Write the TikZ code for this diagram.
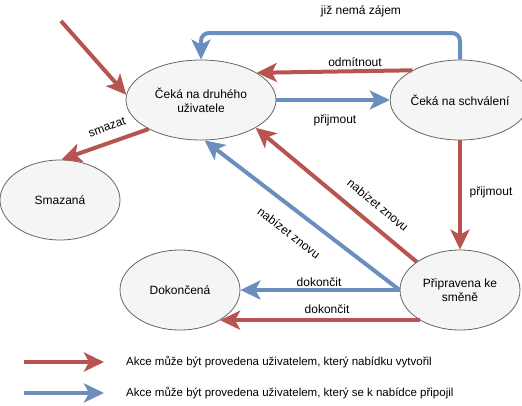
\documentclass[tikz,border=0pt]{standalone}
\usepackage{fontspec}
\setmainfont{Liberation Sans}
\usetikzlibrary{shapes.geometric,arrows.meta}
\definecolor{actred}{HTML}{B85450}
\definecolor{actblue}{HTML}{6C8EBF}
\definecolor{stfill}{HTML}{F5F5F5}
\definecolor{stline}{HTML}{666666}
\begin{document}
\begin{tikzpicture}[x=1pt,y=-1pt,
  state/.style={ellipse, draw=stline, fill=stfill, line width=0.8pt, inner sep=0pt,
    minimum width=120pt, minimum height=80pt, align=center,
    font=\fontsize{12}{14}\selectfont},
  act/.style={line width=4pt, -{Stealth[length=20pt,width=19pt,inset=5pt]}},
  redact/.style={act, draw=actred},
  blueact/.style={act, draw=actblue},
  lbl/.style={font=\fontsize{12}{14}\selectfont, inner sep=1pt},
  legtext/.style={font=\fontsize{11.5}{14}\selectfont, anchor=west, inner sep=0pt}]
\useasboundingbox (0,0) rectangle (522,405);

% states
\node[state, minimum width=150pt] (D) at (201,100) {Čeká na druhého\\uživatele};
\node[state] (S) at (460,100) {Čeká na schválení};
\node[state] (Z) at (60,200) {Smazaná};
\node[state] (K) at (180,290) {Dokončená};
\node[state] (P) at (460,290) {Připravena ke\\směně};

% entry
\coordinate (start) at (61,21);
\draw[redact] (start) -- (D.176);

% transitions
\coordinate (bend) at (330,33);
\draw[blueact, rounded corners=8pt] (S.north) |- (bend) -| (D.north);
\node[lbl] (l1) at (361,11) {již nemá zájem};

\draw[redact] (S.148.6) -- (D.26);
\node[lbl] (l2) at (355,62) {odmítnout};

\draw[blueact] (D.east) -- (S.west);
\node[lbl] (l3) at (335,120) {přijmout};

\draw[redact] (D.209.5) -- (Z.88);
\node[lbl, rotate=20] (l4) at (107,127) {smazat};

\draw[redact] (S.south) -- (P.north);
\node[lbl] (l5) at (491,192) {přijmout};

\draw[redact] (P.147.3) -- (D.-27.5);
\node[lbl, rotate=-39.6] (l6) at (378,205) {nabízet znovu};

\draw[blueact] (P.west) -- (D.-85);
\node[lbl, rotate=-37.3] (l7) at (289,233) {nabízet znovu};

\draw[blueact] (P.west) -- (K.east);
\node[lbl] (l8) at (319,282) {dokončit};

\draw[redact] (P.217.1) -- (K.-37.1);
\node[lbl] (l9) at (327,309) {dokončit};

% legend
\coordinate (r0) at (24,362);
\coordinate (r1) at (104,362);
\coordinate (b0) at (24,393);
\coordinate (b1) at (104,393);
\draw[redact, line width=4.5pt] (r0) -- (r1);
\draw[blueact, line width=4.5pt] (b0) -- (b1);
\node[legtext] (t1) at (126,362) {Akce může být provedena uživatelem, který nabídku vytvořil};
\node[legtext] (t2) at (126,393) {Akce může být provedena uživatelem, který se k nabídce připojil};
\end{tikzpicture}
\end{document}
